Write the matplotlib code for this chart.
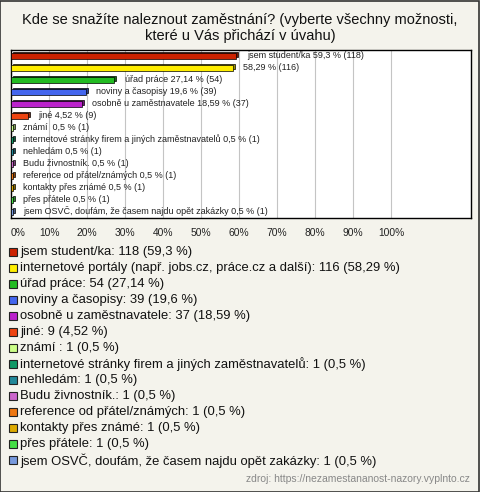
import matplotlib
matplotlib.use("Agg")
import matplotlib.pyplot as plt
import matplotlib.transforms as mtransforms
from matplotlib.patches import Rectangle
from matplotlib.colors import to_rgb

plt.rcParams['font.family'] = ['Liberation Sans', 'DejaVu Sans']

title = "Kde se snažíte naleznout zaměstnání? (vyberte všechny možnosti,\nkteré u Vás přichází v úvahu)"
categories = [
    "jsem student/ka",
    "internetové portály (např. jobs.cz, práce.cz a další)",
    "úřad práce",
    "noviny a časopisy",
    "osobně u zaměstnavatele",
    "jiné",
    "známí ",
    "internetové stránky firem a jiných zaměstnavatelů",
    "nehledám",
    "Budu živnostník.",
    "reference od přátel/známých",
    "kontakty přes známé",
    "přes přátele",
    "jsem OSVČ, doufám, že časem najdu opět zakázky",
]
counts = [118, 116, 54, 39, 37, 9, 1, 1, 1, 1, 1, 1, 1, 1]
percents = [59.3, 58.29, 27.14, 19.6, 18.59, 4.52, 0.5, 0.5, 0.5, 0.5, 0.5, 0.5, 0.5, 0.5]
bar_labels = [
    "jsem student/ka 59,3 % (118)",
    "58,29 % (116)",
    "úřad práce 27,14 % (54)",
    "noviny a časopisy 19,6 % (39)",
    "osobně u zaměstnavatele 18,59 % (37)",
    "jiné 4,52 % (9)",
    "známí  0,5 % (1)",
    "internetové stránky firem a jiných zaměstnavatelů 0,5 % (1)",
    "nehledám 0,5 % (1)",
    "Budu živnostník. 0,5 % (1)",
    "reference od přátel/známých 0,5 % (1)",
    "kontakty přes známé 0,5 % (1)",
    "přes přátele 0,5 % (1)",
    "jsem OSVČ, doufám, že časem najdu opět zakázky 0,5 % (1)",
]
colors = ["#cc2200", "#ffee00", "#22bb22", "#4466ee", "#bb22cc", "#ee4411",
          "#ccff88", "#119966", "#228899", "#cc66cc", "#ee7711", "#ddaa00",
          "#44dd44", "#7799dd"]
xticks = [0, 10, 20, 30, 40, 50, 60, 70, 80, 90, 100]
xtick_labels = [f"{t}%" for t in xticks]
source = "zdroj: https://nezamestananost-nazory.vyplnto.cz"

W, H = 480, 492
bg = "#f4f3ec"
fig = plt.figure(figsize=(W / 100, H / 100), dpi=100, facecolor=bg)

def fx(px):
    return px / W

def fy(py):
    return 1 - py / H

fig.text(0.5, fy(28), title, ha="center", va="center", fontsize=10.5,
         linespacing=1.1, color="#111111")

ax = fig.add_axes([fx(11), fy(218), fx(471) - fx(11), fy(50) - fy(218)])
ax.set_facecolor("white")
ax.set_xlim(0, 121)
n = len(categories)
ax.set_ylim(n - 0.5, -0.5)
ax.set_xticks(xticks)
ax.set_xticklabels(xtick_labels, fontsize=7.4, color="#222222")
ax.tick_params(axis="x", length=0, pad=7)
ax.set_yticks([])
for s in ax.spines.values():
    s.set_linewidth(1.0)
    s.set_color("black")
ax.grid(axis="x", color="#c4c4c4", linewidth=0.8)
ax.set_axisbelow(True)
ax.get_xticklabels()[0].set_horizontalalignment("left")

shadow_tr = ax.transData + mtransforms.ScaledTranslation(2 / 100, 1.5 / 100, fig.dpi_scale_trans)
ypos = list(range(n))
dark = [tuple(c * 0.6 for c in to_rgb(col)) for col in colors]
ax.barh(ypos, percents, height=0.42, color=dark, edgecolor="black",
        linewidth=0.5, transform=shadow_tr, zorder=2)
ax.barh(ypos, percents, height=0.42, color=colors, edgecolor="black",
        linewidth=0.5, zorder=3)
for i in range(n):
    ax.annotate(bar_labels[i], (percents[i], i), xytext=(7.5, 0.5),
                textcoords="offset points", fontsize=6.5, va="center",
                ha="left", color="#222222", zorder=4)

# legend
y0, dy = 252, 16
for i in range(n):
    yy = y0 + i * dy
    fig.add_artist(Rectangle((fx(9), fy(yy + 4)), fx(8), fy(yy - 4) - fy(yy + 4),
                             transform=fig.transFigure, facecolor=colors[i],
                             edgecolor="#222222", linewidth=0.8))
    pct = f"{percents[i]:g}".replace(".", ",")
    fig.text(fx(20), fy(yy + 0.5), f"{categories[i]}: {counts[i]} ({pct} %)",
             ha="left", va="center", fontsize=9.4, color="#111111")

fig.text(fx(470), fy(479), source, ha="right", va="center", fontsize=7.5,
         color="#888888")

fig.add_artist(Rectangle((0.001, 0.001), 0.997, 0.997, transform=fig.transFigure,
                         fill=False, edgecolor="#333333", linewidth=1.2))

fig.savefig("out.png", dpi=100, facecolor=bg)
